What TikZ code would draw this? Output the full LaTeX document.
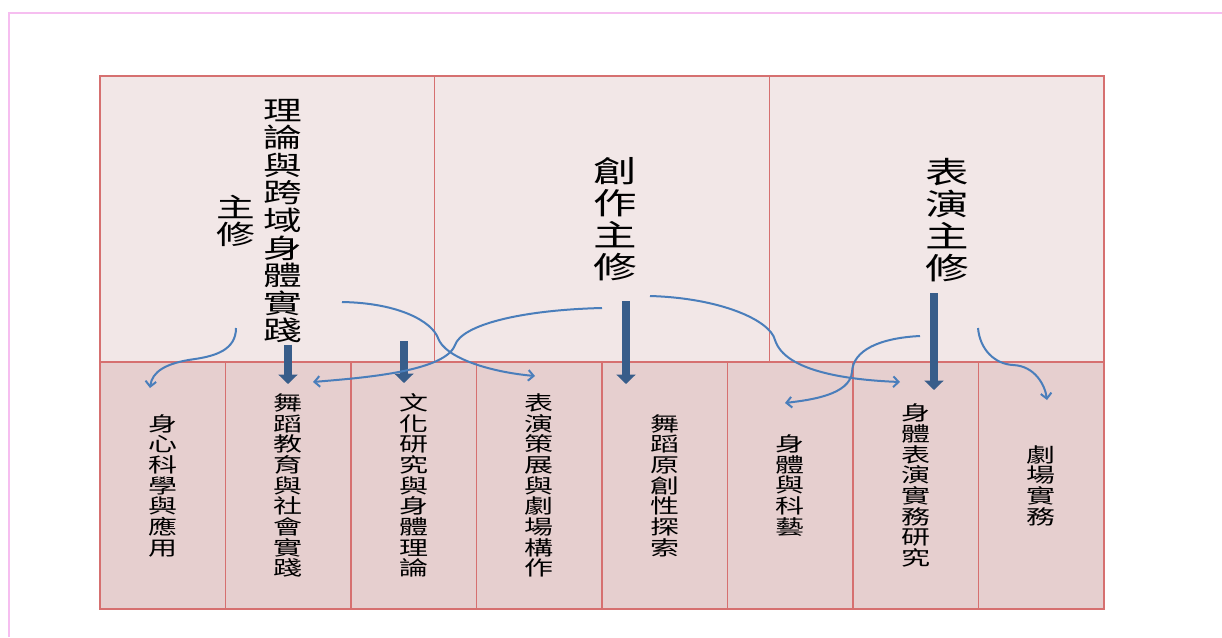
\documentclass[tikz,border=0pt]{standalone}
\usepackage{fontspec}
\newfontfamily\cjk[FakeStretch=1.45]{Noto Sans CJK TC}
\usepackage{tikz}
\usetikzlibrary{arrows.meta, positioning}
\definecolor{cellline}{RGB}{214,112,112}
\definecolor{topfill}{RGB}{242,231,231}
\definecolor{botfill}{RGB}{230,207,207}
\definecolor{bigblue}{RGB}{56,93,138}
\definecolor{thinblue}{RGB}{74,126,187}
\definecolor{framepink}{RGB}{246,190,240}
\tikzstyle{topcell} = [rectangle, draw=cellline, fill=topfill, line width=1.1pt, minimum width=251pt, minimum height=214.5pt, inner sep=0pt, outer sep=0pt]
\tikzstyle{botcell} = [rectangle, draw=cellline, fill=botfill, line width=1.1pt, minimum width=94.125pt, minimum height=185.25pt, inner sep=0pt, outer sep=0pt, align=center, font=\cjk\fontsize{15pt}{15.5pt}\selectfont]
\tikzstyle{bigtext} = [align=center, inner sep=1pt, font=\cjk\fontsize{22.5pt}{24pt}\selectfont]
\tikzstyle{midtext} = [align=center, inner sep=1pt, font=\cjk\fontsize{20pt}{20.7pt}\selectfont]
\tikzstyle{bigarrow} = [draw=bigblue, line width=6.5pt, -{Triangle[width=14pt,length=7pt]}]
\tikzstyle{curvearrow} = [draw=thinblue, line width=1.5pt, -{Straight Barb[length=4pt,width=8pt]}]

\begin{document}
\begin{tikzpicture}[x=0.75pt, y=-0.75pt]
    \useasboundingbox (0,0) rectangle (1222,637);
    \draw [framepink, line width=0.8pt] (9,637) -- (9,13) -- (1222,13);

    % Top row
    \node [topcell, anchor=north west] (theory_cell) at (100,76) {};
    \node [topcell, right=0pt of theory_cell] (creation_cell) {};
    \node [topcell, right=0pt of creation_cell] (perf_cell) {};

    % Bottom row
    \node [botcell, anchor=north west] (somatic) at (theory_cell.south west) {身\\心\\科\\學\\與\\應\\用};
    \node [botcell, right=0pt of somatic] (dance_edu) {舞\\蹈\\教\\育\\與\\社\\會\\實\\踐};
    \node [botcell, right=0pt of dance_edu] (culture) {文\\化\\研\\究\\與\\身\\體\\理\\論};
    \node [botcell, right=0pt of culture] (curation) {表\\演\\策\\展\\與\\劇\\場\\構\\作};
    \node [botcell, right=0pt of curation] (dance_orig) {舞\\蹈\\原\\創\\性\\探\\索};
    \node [botcell, right=0pt of dance_orig] (bodytech) {身\\體\\與\\科\\藝};
    \node [botcell, right=0pt of bodytech] (perf_research) {身\\體\\表\\演\\實\\務\\研\\究};
    \node [botcell, right=0pt of perf_research] (theatre) {劇\\場\\實\\務};

    % Majors
    \node [midtext] (theory) at (283,221) {理\\論\\與\\跨\\域\\身\\體\\實\\踐};
    \node [midtext] (theory_minor) at (236,221) {主\\修};
    \node [bigtext] (creation) at (615,219) {創\\作\\主\\修};
    \node [bigtext] (performance) at (947,220) {表\\演\\主\\修};

    % Straight arrows
    \coordinate (theory_tip) at (288,384);
    \coordinate (culture_tail) at (404,341);
    \coordinate (culture_tip) at (404,383);
    \coordinate (creation_tail) at (626,301);
    \coordinate (creation_tip) at (626,384);
    \coordinate (perf_tail) at (934,293);
    \coordinate (perf_tip) at (934,390);
    \draw [bigarrow] (theory_tip |- theory.south) -- (theory_tip);
    \draw [bigarrow] (culture_tail) -- (culture_tip);
    \draw [bigarrow] (creation_tail) -- (creation_tip);
    \draw [bigarrow] (perf_tail) -- (perf_tip);

    % Curved arrows
    \coordinate (minor_out) at (236,328);
    \coordinate (somatic_in) at (150,388);
    \coordinate (theory_out) at (342,302);
    \coordinate (curation_in) at (535,376);
    \coordinate (creation_left) at (602,308);
    \coordinate (dance_edu_in) at (313,382);
    \coordinate (creation_right) at (650,296);
    \coordinate (perf_research_in) at (900,382);
    \coordinate (perf_left) at (920,336);
    \coordinate (bodytech_in) at (785,403);
    \coordinate (perf_right) at (978,328);
    \coordinate (theatre_in) at (1047,400);
    \draw [curvearrow] (minor_out) .. controls (236,350) and (215,356) .. (195,359) .. controls (165,363) and (152,372) .. (somatic_in);
    \draw [curvearrow] (theory_out) .. controls (400,303) and (432,322) .. (438,338) .. controls (445,358) and (490,372) .. (curation_in);
    \draw [curvearrow] (creation_left) .. controls (520,310) and (462,325) .. (455,345) .. controls (445,372) and (360,378) .. (dance_edu_in);
    \draw [curvearrow] (creation_right) .. controls (720,298) and (770,320) .. (775,340) .. controls (785,372) and (850,380) .. (perf_research_in);
    \draw [curvearrow] (perf_left) .. controls (880,338) and (853,350) .. (852,372) .. controls (850,395) and (810,400) .. (bodytech_in);
    \draw [curvearrow] (perf_right) .. controls (980,350) and (995,364) .. (1013,365) .. controls (1035,366) and (1045,385) .. (theatre_in);
\end{tikzpicture}
\end{document}
